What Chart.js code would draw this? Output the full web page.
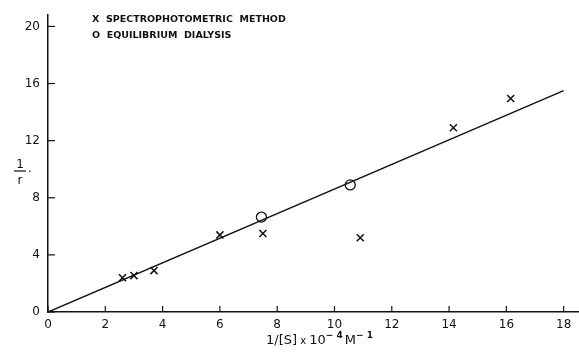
<!DOCTYPE html>
<html>
<head>
<meta charset="utf-8">
<script src="https://cdn.jsdelivr.net/npm/chart.js@4.4.0/dist/chart.umd.min.js"></script>
<style>
  html, body { margin: 0; padding: 0; background: #fff; overflow: hidden; }
  #wrap { width: 579px; height: 352px; }
</style>
</head>
<body>
<div id="wrap"><canvas id="plot"></canvas></div>
<script>
// values
const fitX = [0, 18];
const fitY = [0, 15.5];
const spectroX = [2.6, 3.0, 3.7, 6.0, 7.5, 10.9, 14.15, 16.15];
const spectroY = [2.4, 2.55, 2.9, 5.4, 5.5, 5.2, 12.9, 14.95];
const dialysisX = [7.45, 10.55];
const dialysisY = [6.65, 8.9];
const xTicks = [0, 2, 4, 6, 8, 10, 12, 14, 16, 18];
const yTicks = [0, 4, 8, 12, 16, 20];

const pts = (xs, ys) => xs.map((x, i) => ({ x: x, y: ys[i] }));
const INK = '#111';
const FONT = '"DejaVu Sans", sans-serif';

// tick marks pointing into the plot, plus axis titles and key
const decor = {
  id: 'decor',
  afterDraw(chart) {
    const c = chart.ctx, xs = chart.scales.x, ys = chart.scales.y;
    const x0 = xs.getPixelForValue(0), y0 = ys.getPixelForValue(0);
    c.save();
    c.strokeStyle = INK;
    c.lineWidth = 1.2;
    yTicks.forEach(v => {
      const p = ys.getPixelForValue(v);
      c.beginPath(); c.moveTo(x0, p); c.lineTo(x0 + 7, p); c.stroke();
    });
    xTicks.forEach(v => {
      const p = xs.getPixelForValue(v);
      c.beginPath(); c.moveTo(p, y0); c.lineTo(p, y0 - 6); c.stroke();
    });

    c.fillStyle = INK;
    c.textBaseline = 'alphabetic';
    // y title: 1 over r
    c.font = '12px ' + FONT;
    c.textAlign = 'center';
    c.fillText('1', 20, 168);
    c.beginPath(); c.moveTo(14, 171); c.lineTo(26, 171); c.stroke();
    c.fillText('r', 20, 184);
    c.fillText('.', 30, 172);

    // x title
    c.textAlign = 'left';
    let x = 266;
    const put = (s, f, dy) => { c.font = f; c.fillText(s, x, 344 + dy); x += c.measureText(s).width; };
    put('1/[S]', '13px ' + FONT, 0);
    put(' x ', '10px ' + FONT, 0);
    put('10', '13px ' + FONT, 0);
    put('\u2212 4', 'bold 9px ' + FONT, -6);
    x += 2;
    put('M', '13px ' + FONT, 0);
    put('\u2212 1', 'bold 9px ' + FONT, -6);

    // key
    c.font = 'bold 9.5px ' + FONT;
    c.fillText('X  SPECTROPHOTOMETRIC  METHOD', 92, 22);
    c.fillText('O  EQUILIBRIUM  DIALYSIS', 92, 38);
    c.restore();
  }
};

new Chart(document.getElementById('plot'), {
  type: 'scatter',
  data: {
    datasets: [
      {
        label: 'fit',
        data: pts(fitX, fitY),
        showLine: true,
        borderColor: INK,
        borderWidth: 1.5,
        pointRadius: 0
      },
      {
        label: 'SPECTROPHOTOMETRIC METHOD',
        data: pts(spectroX, spectroY),
        pointStyle: 'crossRot',
        pointRadius: 5,
        borderColor: INK,
        borderWidth: 1.5
      },
      {
        label: 'EQUILIBRIUM DIALYSIS',
        data: pts(dialysisX, dialysisY),
        pointStyle: 'circle',
        pointRadius: 5,
        backgroundColor: '#fff',
        borderColor: INK,
        borderWidth: 1.3
      }
    ]
  },
  options: {
    responsive: true,
    maintainAspectRatio: false,
    animation: false,
    layout: { autoPadding: false, padding: { top: 15, right: 1, left: 0, bottom: 0 } },
    plugins: { legend: { display: false }, tooltip: { enabled: false } },
    scales: {
      x: {
        type: 'linear',
        min: 0,
        max: 18.5,
        afterBuildTicks: s => { s.ticks = xTicks.map(v => ({ value: v })); },
        afterFit: s => { s.height = 40; s.paddingLeft = 0; s.paddingRight = 0; },
        grid: { drawOnChartArea: false, drawTicks: false },
        border: { color: INK, width: 1.5 },
        ticks: { color: INK, font: { family: FONT, size: 12 }, padding: 6, maxRotation: 0 }
      },
      y: {
        type: 'linear',
        min: 0,
        max: 20.8,
        afterBuildTicks: s => { s.ticks = yTicks.map(v => ({ value: v })); },
        afterFit: s => { s.width = 48; s.paddingTop = 0; s.paddingBottom = 0; },
        grid: { drawOnChartArea: false, drawTicks: false },
        border: { color: INK, width: 1.5 },
        ticks: { color: INK, font: { family: FONT, size: 12 }, padding: 8 }
      }
    }
  },
  plugins: [decor]
});
</script>
</body>
</html>
